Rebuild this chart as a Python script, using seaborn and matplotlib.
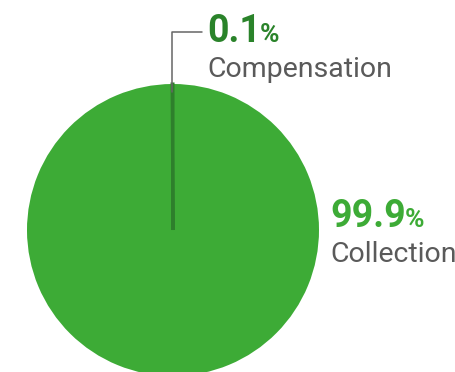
import matplotlib
matplotlib.use("Agg")
import matplotlib.pyplot as plt
import seaborn as sns

# Share of funds by category
labels = ["Compensation", "Collection"]
shares = [0.1, 99.9]
pct_text = ["0.1", "99.9"]

sns.set_theme(style="white")
plt.rcParams["font.family"] = ["Roboto", "DejaVu Sans"]

W, H = 456, 372
fig = plt.figure(figsize=(W / 100, H / 100), dpi=100)

main_green = "#3dab36"
dark_green = "#2a832a"
gray = "#5a5a5a"
colors = sns.color_palette([dark_green, main_green])

# pie centred at (173, 230) px, radius 146 px
cx, cy, r = 173, 230, 146
ax = fig.add_axes([(cx - r) / W, (H - cy - r) / H, 2 * r / W, 2 * r / H])
wedges, _ = ax.pie(shares, colors=colors, startangle=90, counterclock=True,
                   radius=1.0, wedgeprops=dict(linewidth=0))
# outline the thin slice so it stays visible above the large one
wedges[0].set_edgecolor("#2e7f2c")
wedges[0].set_linewidth(2.2)
wedges[0].set_joinstyle("miter")
wedges[0].set_zorder(wedges[1].get_zorder() + 1)
ax.set_xlim(-1, 1)
ax.set_ylim(-1, 1)
ax.axis("off")


def fx(px):
    return px / W


def fy(py):
    return (H - py) / H


# leader line for the small slice
fig.add_artist(plt.Line2D([fx(172), fx(172), fx(202)], [fy(92), fy(32), fy(32)],
                          color="#666666", lw=1.1, transform=fig.transFigure))


def label(x, base_y, pct, name, pct_color):
    t = fig.text(fx(x), fy(base_y), pct, fontsize=27, fontweight="bold",
                 color=pct_color, ha="left", va="baseline")
    fig.add_artist(matplotlib.text.Annotation(
        "%", xy=(1.0, fy(base_y)), xycoords=(t, "figure fraction"),
        xytext=(-1, 0), textcoords="offset points",
        fontsize=19, fontweight="bold", color=pct_color,
        ha="left", va="baseline"))
    fig.text(fx(x), fy(base_y + 35), name, fontsize=20.5, color=gray,
             ha="left", va="baseline")


label(207, 42, pct_text[0], labels[0], dark_green)
label(330, 227, pct_text[1], labels[1], main_green)

fig.savefig("out.png", dpi=100, facecolor="white")
